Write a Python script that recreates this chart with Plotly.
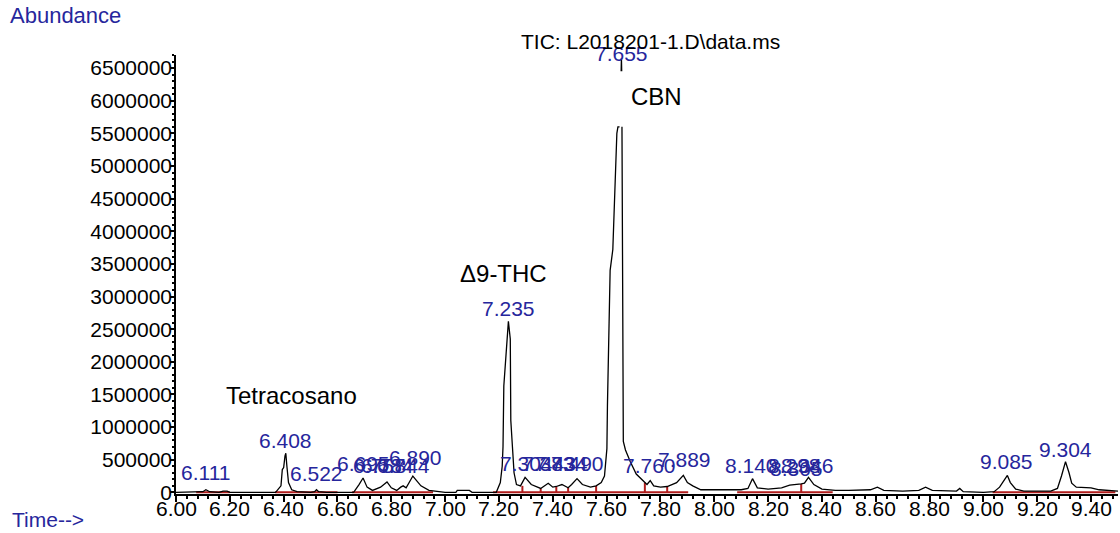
import plotly.graph_objects as go

# ---------------- data ----------------
# retention time (min) and abundance of the TIC trace (None = gap in the drawn trace)
rt = [6.000, 6.060, 6.100, 6.111, 6.125, 6.160, 6.175, 6.190, 6.200, 6.370,
      6.390, 6.395, 6.400, 6.405, 6.408, 6.412, 6.418, 6.430, 6.450, 6.500,
      6.515, 6.522, 6.530, 6.560, 6.660, 6.680, 6.695, 6.710, 6.730, 6.760,
      6.784, 6.800, 6.820, 6.835, 6.844, 6.855, 6.870, 6.880, 6.890, 6.910,
      6.940, 6.970, 7.000, 7.040, 7.045, 7.090, 7.100, 7.190, 7.205, 7.212,
      7.215, 7.218, 7.227, 7.235, 7.242, 7.244, 7.250, 7.256, 7.265, 7.280,
      7.297, 7.320, 7.355, 7.383, 7.400, 7.413, 7.434, 7.457, 7.470, 7.490,
      7.510, 7.540, 7.561, 7.580, 7.592, 7.598, 7.601, 7.603, 7.606, 7.613,
      7.623, 7.630, 7.638, 7.642, 7.648, 7.653, 7.654, 7.655, 7.656, 7.657,
      7.657, 7.660, 7.662, 7.670, 7.688, 7.710, 7.736, 7.750, 7.762, 7.775,
      7.800, 7.825, 7.860, 7.885, 7.900, 7.920, 7.950, 8.000, 8.050, 8.100,
      8.125, 8.142, 8.160, 8.200, 8.250, 8.280, 8.323, 8.335, 8.350, 8.370,
      8.400, 8.450, 8.500, 8.580, 8.606, 8.630, 8.700, 8.760, 8.785, 8.810,
      8.900, 8.912, 8.925, 9.000, 9.040, 9.060, 9.089, 9.100, 9.120, 9.150,
      9.250, 9.275, 9.290, 9.305, 9.318, 9.328, 9.345, 9.400, 9.430, 9.480,
      9.500]
abundance = [0, 0, 10000, 40000, 10000, 0, 20000, 20000, 0, 0,
             100000, 350000, 380000, 560000, 600000, 400000, 150000, 40000, 10000, 0,
             10000, 40000, 10000, 0, 0, 120000, 220000, 80000, 30000, 80000,
             160000, 70000, 30000, 80000, 100000, 70000, 180000, 250000, 200000, 100000,
             30000, 10000, 0, 0, 30000, 30000, 0, 0, 150000, 400000,
             700000, 1630000, 2200000, 2620000, 2350000, 1100000, 700000, 300000, 120000, 100000,
             230000, 120000, 60000, 140000, 80000, 90000, 120000, 70000, 120000, 210000,
             120000, 80000, 100000, 150000, 250000, 500000, 670000, 1330000, 1940000, 3400000,
             3720000, 4600000, 5500000, 5600000, 5600000, None, 6450000, 6650000, 6450000, None,
             5600000, 3400000, 780000, 650000, 470000, 280000, 170000, 120000, 180000, 100000,
             80000, 90000, 150000, 260000, 150000, 100000, 40000, 40000, 50000, 40000,
             60000, 210000, 70000, 50000, 70000, 110000, 130000, 140000, 230000, 120000,
             50000, 30000, 30000, 40000, 80000, 30000, 20000, 30000, 80000, 30000,
             20000, 60000, 10000, 0, 10000, 80000, 260000, 150000, 50000, 20000,
             20000, 60000, 250000, 470000, 300000, 140000, 80000, 70000, 40000, 20000,
             20000]

# integrated peaks: label (retention time) and label level (apex abundance)
peak_rt = [6.111, 6.408, 6.522, 6.695, 6.757, 6.784, 6.844, 6.890, 7.235, 7.304,
           7.383, 7.434, 7.490, 7.655, 7.760, 7.889, 8.140, 8.298, 8.305, 8.346,
           9.085, 9.304]
peak_height = [110000, 590000, 90000, 240000, 210000, 210000, 210000, 340000, 2620000, 240000,
               240000, 240000, 240000, 6520000, 210000, 300000, 210000, 210000, 170000, 210000,
               270000, 460000]

# integration baselines (start / end times) and peak drop lines
base_start = [6.075, 6.368, 6.654, 7.178, 8.085, 9.034]
base_end = [6.200, 6.600, 6.955, 7.903, 8.440, 9.490]
drop_rt = [7.287, 7.355, 7.413, 7.457, 7.561, 7.742, 7.825, 8.323]
drop_height = [100000, 60000, 90000, 70000, 100000, 150000, 90000, 130000]

# compound names
compounds = ["Tetracosano", "Δ9-THC", "CBN"]
compound_rt = [6.43, 7.216, 7.784]
compound_y = [1480000, 3360000, 6060000]

x_ticks = [6.0 + 0.2 * i for i in range(18)]
x_ticktext = ["%.2f" % v for v in x_ticks]

# ---------------- figure ----------------
FONT = "Liberation Sans, Arial, sans-serif"
BLUE = "#26269c"
RED = "#b01c1c"

fig = go.Figure()

# baselines
bx, by = [], []
for s, e in zip(base_start, base_end):
    bx += [s, e, None]
    by += [0, 0, None]
for t, h in zip(drop_rt, drop_height):
    bx += [t, t, None]
    by += [0, h, None]
fig.add_trace(go.Scatter(x=bx, y=by, mode="lines",
                         line=dict(color=RED, width=2),
                         hoverinfo="skip", showlegend=False))

fig.add_trace(go.Scatter(x=rt, y=abundance, mode="lines",
                         line=dict(color="black", width=1.3),
                         connectgaps=False, showlegend=False))

for t, h in zip(peak_rt, peak_height):
    fig.add_annotation(x=t, y=h, text="%.3f" % t, showarrow=False,
                       xanchor="center", yanchor="middle", yshift=13,
                       font=dict(family=FONT, size=21, color=BLUE))

for name, t, y in zip(compounds, compound_rt, compound_y):
    fig.add_annotation(x=t, y=y, text=name, showarrow=False,
                       xanchor="center", yanchor="middle",
                       font=dict(family=FONT, size=24, color="black"))

# x tick labels, set close under the axis line as in the reference
for v, s in zip(x_ticks, x_ticktext):
    fig.add_annotation(x=v, xref="x", y=0, yref="paper", text=s, showarrow=False,
                       xanchor="center", yanchor="top", yshift=-1,
                       font=dict(family=FONT, size=21, color="black"))

# plot area: x 176..1118 px, y 55..494 px
L, R, T, B = 176, 2, 55, 39
W, H = 1120 - L - R, 533 - T - B

def px(xp):
    return (xp - L) / W

def py(yp):
    return (533 - B - yp) / H

fig.add_annotation(xref="paper", yref="paper", x=px(8), y=py(15), text="Abundance",
                   showarrow=False, xanchor="left", yanchor="middle",
                   font=dict(family=FONT, size=22, color=BLUE))
fig.add_annotation(xref="paper", yref="paper", x=px(10), y=py(519), text="Time-->",
                   showarrow=False, xanchor="left", yanchor="middle",
                   font=dict(family=FONT, size=21, color=BLUE))
fig.add_annotation(xref="paper", yref="paper", x=px(650), y=py(42),
                   text="TIC: L2018201-1.D\\data.ms",
                   showarrow=False, xanchor="center", yanchor="middle",
                   font=dict(family=FONT, size=21, color="black"))

fig.update_layout(
    width=1120, height=533,
    margin=dict(l=L, r=R, t=T, b=B, pad=0),
    paper_bgcolor="white", plot_bgcolor="white",
    font=dict(family=FONT, size=21, color="black"),
    xaxis=dict(range=[6.0, 9.5], tickvals=x_ticks, showticklabels=False,
               showgrid=False, zeroline=False, showline=True, layer="below traces",
               linecolor="black", linewidth=1.5,
               ticks="outside", ticklen=6, tickwidth=1.5, tickcolor="black",
               minor=dict(dtick=0.04, tick0=6.0, ticks="outside", ticklen=3,
                          tickcolor="black", tickwidth=1.5, showgrid=False)),
    yaxis=dict(range=[-25000, 6700000], dtick=500000, tick0=0, tickformat="d",
               showgrid=False, zeroline=False, showline=True, layer="below traces",
               linecolor="black", linewidth=1.5,
               ticks="outside", ticklen=4, tickwidth=1.5, tickcolor="black",
               ticklabelstandoff=-6,
               minor=dict(dtick=100000, ticks="outside", ticklen=2,
                          tickcolor="black", tickwidth=1.5, showgrid=False),
               tickfont=dict(family=FONT, size=21, color="black")),
)

fig.write_html("out.html")
